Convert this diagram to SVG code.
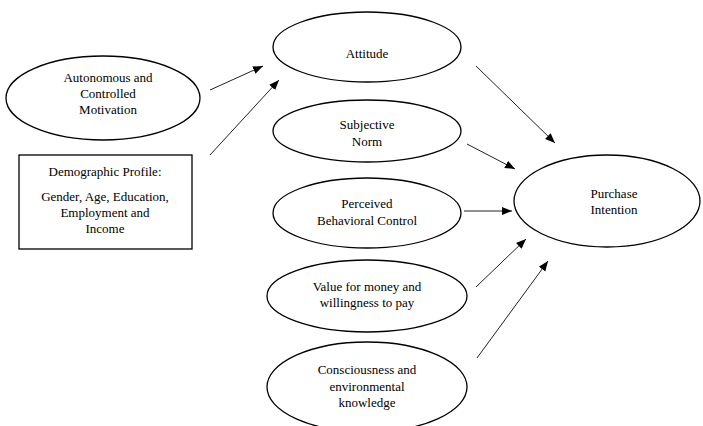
<svg xmlns="http://www.w3.org/2000/svg" width="703" height="426" viewBox="0 0 703 426">
<defs>
<style>
.n{fill:#fff;stroke:#000;stroke-width:1.3}
.t{font-family:'Liberation Serif','Times New Roman',Times,serif;font-size:13px;fill:#000;text-anchor:middle}
.c line{stroke:#222;stroke-width:1;marker-end:url(#ah)}
</style>
<marker id="ah" viewBox="0 0 10 10" refX="10" refY="5" markerWidth="10" markerHeight="10" markerUnits="userSpaceOnUse" orient="auto">
<path d="M0,1 L10,5 L0,9 Z" fill="#000"/>
</marker>
</defs>
<rect width="703" height="426" fill="#fff"/>
<g id="motivation">
<ellipse class="n" cx="103" cy="98" rx="97" ry="42"/>
<text class="t" x="108" y="82">Autonomous and</text>
<text class="t" x="108" y="98">Controlled</text>
<text class="t" x="108" y="114">Motivation</text>
</g>
<g id="demographic">
<rect class="n" x="19" y="155" width="173" height="94" stroke-width="1"/>
<text class="t" x="105" y="176">Demographic Profile:</text>
<text class="t" x="105" y="201">Gender, Age, Education,</text>
<text class="t" x="105" y="217">Employment and</text>
<text class="t" x="105" y="233">Income</text>
</g>
<g id="attitude">
<ellipse class="n" cx="367" cy="47" rx="94" ry="35"/>
<text class="t" x="367" y="58">Attitude</text>
</g>
<g id="subjective">
<ellipse class="n" cx="367" cy="131" rx="94" ry="31"/>
<text class="t" x="367" y="129">Subjective</text>
<text class="t" x="367" y="146">Norm</text>
</g>
<g id="perceived">
<ellipse class="n" cx="367" cy="213" rx="94" ry="35"/>
<text class="t" x="367" y="208">Perceived</text>
<text class="t" x="367" y="225">Behavioral Control</text>
</g>
<g id="purchase">
<ellipse class="n" cx="607" cy="201" rx="93" ry="46"/>
<text class="t" x="614" y="198">Purchase</text>
<text class="t" x="614" y="214">Intention</text>
</g>
<g id="value">
<ellipse class="n" cx="367" cy="296" rx="100" ry="36"/>
<text class="t" x="367" y="291">Value for money and</text>
<text class="t" x="367" y="307">willingness to pay</text>
</g>
<g id="consciousness">
<ellipse class="n" cx="367" cy="387" rx="100" ry="45"/>
<text class="t" x="367" y="374">Consciousness and</text>
<text class="t" x="367" y="391">environmental</text>
<text class="t" x="367" y="407">knowledge</text>
</g>
<g id="connectors" class="c">
<line x1="210" y1="90" x2="263" y2="66"/>
<line x1="210" y1="155" x2="279" y2="80"/>
<line x1="476" y1="66" x2="555" y2="143"/>
<line x1="467" y1="144" x2="515" y2="169"/>
<line x1="464" y1="211" x2="512" y2="211"/>
<line x1="476" y1="287" x2="526" y2="239"/>
<line x1="477" y1="358" x2="548" y2="261"/>
</g>
</svg>
